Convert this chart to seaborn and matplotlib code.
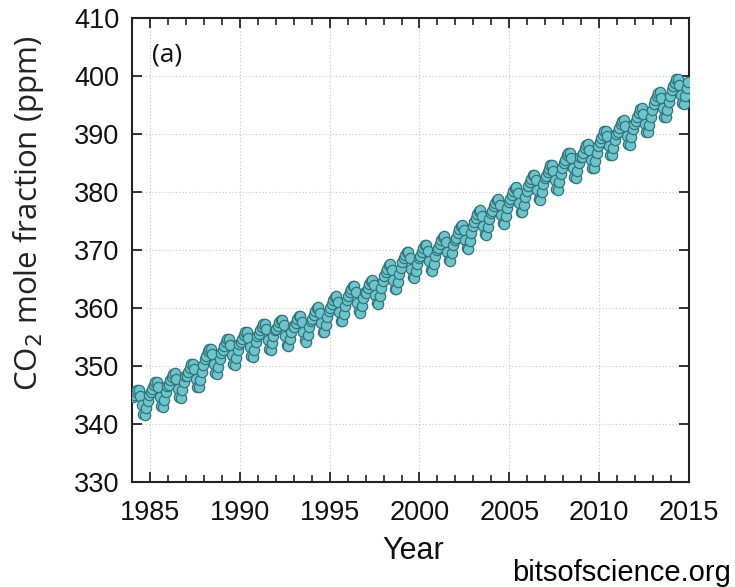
import numpy as np
import pandas as pd
import matplotlib
matplotlib.use("Agg")
import matplotlib.pyplot as plt
import seaborn as sns
from matplotlib.ticker import MultipleLocator

# ---- data (monthly CO2 mole fraction, ppm) ----
years = list(range(1984, 2015))
months = list(range(1, 13))
co2_1984 = [344.6, 345.0, 345.5, 345.9, 345.8, 344.9, 343.2, 341.8, 341.6, 342.7, 344.0, 345.0]
co2_1985 = [345.5, 346.1, 346.8, 347.3, 347.3, 346.3, 344.6, 343.1, 342.9, 344.1, 345.5, 346.5]
co2_1986 = [346.8, 347.5, 348.1, 348.7, 348.8, 347.8, 346.1, 344.6, 344.5, 345.8, 347.2, 348.2]
co2_1987 = [348.2, 349.0, 349.7, 350.3, 350.4, 349.5, 347.8, 346.4, 346.3, 347.6, 349.0, 350.2]
co2_1988 = [351.2, 351.8, 352.5, 353.0, 353.0, 352.0, 350.3, 348.8, 348.6, 349.8, 351.2, 352.2]
co2_1989 = [352.8, 353.4, 354.1, 354.6, 354.6, 353.6, 351.9, 350.4, 350.2, 351.4, 352.8, 353.8]
co2_1990 = [354.1, 354.7, 355.4, 355.9, 355.9, 354.9, 353.2, 351.7, 351.5, 352.7, 354.1, 355.1]
co2_1991 = [355.6, 356.2, 356.8, 357.3, 357.3, 356.3, 354.4, 352.9, 352.7, 353.9, 355.2, 356.2]
co2_1992 = [356.3, 356.9, 357.5, 358.0, 358.0, 357.0, 355.1, 353.6, 353.4, 354.6, 355.9, 356.9]
co2_1993 = [356.8, 357.4, 358.1, 358.6, 358.6, 357.6, 355.9, 354.4, 354.2, 355.4, 356.8, 357.8]
co2_1994 = [358.1, 358.8, 359.4, 360.0, 360.1, 359.1, 357.4, 355.9, 355.8, 357.1, 358.5, 359.5]
co2_1995 = [360.0, 360.7, 361.3, 361.9, 362.0, 361.0, 359.3, 357.8, 357.7, 359.0, 360.4, 361.4]
co2_1996 = [362.1, 362.7, 363.3, 363.8, 363.8, 362.8, 360.9, 359.4, 359.2, 360.4, 361.7, 362.7]
co2_1997 = [362.6, 363.4, 364.1, 364.7, 364.8, 363.9, 362.2, 360.8, 360.7, 362.0, 363.4, 364.6]
co2_1998 = [365.5, 366.2, 366.8, 367.4, 367.5, 366.5, 364.8, 363.3, 363.2, 364.5, 365.9, 366.9]
co2_1999 = [368.0, 368.6, 369.2, 369.7, 369.7, 368.7, 366.8, 365.3, 365.1, 366.3, 367.6, 368.6]
co2_2000 = [369.0, 369.6, 370.3, 370.8, 370.8, 369.8, 368.1, 366.6, 366.4, 367.6, 369.0, 370.0]
co2_2001 = [370.4, 371.1, 371.7, 372.3, 372.4, 371.4, 369.7, 368.2, 368.1, 369.4, 370.8, 371.8]
co2_2002 = [372.1, 372.9, 373.6, 374.2, 374.3, 373.4, 371.7, 370.3, 370.2, 371.5, 372.9, 374.1]
co2_2003 = [374.9, 375.6, 376.2, 376.8, 376.9, 375.9, 374.2, 372.7, 372.6, 373.9, 375.3, 376.3]
co2_2004 = [376.8, 377.5, 378.1, 378.7, 378.8, 377.8, 376.1, 374.6, 374.5, 375.8, 377.2, 378.2]
co2_2005 = [378.8, 379.5, 380.1, 380.7, 380.8, 379.8, 378.1, 376.6, 376.5, 377.8, 379.2, 380.2]
co2_2006 = [381.0, 381.7, 382.3, 382.9, 383.0, 382.0, 380.3, 378.8, 378.7, 380.0, 381.4, 382.4]
co2_2007 = [382.7, 383.4, 384.0, 384.6, 384.7, 383.7, 382.0, 380.5, 380.4, 381.7, 383.1, 384.1]
co2_2008 = [385.0, 385.6, 386.3, 386.8, 386.8, 385.8, 384.1, 382.6, 382.4, 383.6, 385.0, 386.0]
co2_2009 = [386.0, 386.8, 387.5, 388.1, 388.2, 387.3, 385.6, 384.2, 384.1, 385.4, 386.8, 388.0]
co2_2010 = [388.6, 389.3, 389.9, 390.5, 390.6, 389.6, 387.9, 386.4, 386.3, 387.6, 389.0, 390.0]
co2_2011 = [390.4, 391.1, 391.7, 392.3, 392.4, 391.4, 389.7, 388.2, 388.1, 389.4, 390.8, 391.8]
co2_2012 = [392.2, 393.0, 393.7, 394.3, 394.4, 393.5, 391.8, 390.4, 390.3, 391.6, 393.0, 394.2]
co2_2013 = [395.2, 395.9, 396.5, 397.1, 397.2, 396.2, 394.5, 393.0, 392.9, 394.2, 395.6, 396.6]
co2_2014 = [397.5, 398.2, 398.8, 399.4, 399.5, 398.5, 396.8, 395.3, 395.2, 396.5, 397.9, 398.9]

all_years = [co2_1984, co2_1985, co2_1986, co2_1987, co2_1988, co2_1989, co2_1990,
             co2_1991, co2_1992, co2_1993, co2_1994, co2_1995, co2_1996, co2_1997,
             co2_1998, co2_1999, co2_2000, co2_2001, co2_2002, co2_2003, co2_2004,
             co2_2005, co2_2006, co2_2007, co2_2008, co2_2009, co2_2010, co2_2011,
             co2_2012, co2_2013, co2_2014]

x_ticks = [1985, 1990, 1995, 2000, 2005, 2010, 2015]
y_ticks = [330, 340, 350, 360, 370, 380, 390, 400, 410]

rows = []
for yr, vals in zip(years, all_years):
    for m, v in zip(months, vals):
        rows.append({"year": yr, "month": m, "co2": v})
df = pd.DataFrame(rows)
df["date"] = df["year"] + (df["month"] - 0.5) / 12.0

# ---- figure ----
sns.set_theme(style="white")
plt.rcParams["font.family"] = ["Liberation Sans", "DejaVu Sans"]
plt.rcParams["xtick.minor.visible"] = True

fig = plt.figure(figsize=(7.35, 5.87), dpi=100)
ax = fig.add_axes([132/735, 1 - 482/587, (689 - 132)/735, (482 - 18)/587])

sns.lineplot(data=df, x="date", y="co2", ax=ax, color="#A8304C", linewidth=1.3,
             zorder=2, legend=False)
sns.scatterplot(data=df, x="date", y="co2", ax=ax, s=55, color="#6DC5CC",
                edgecolor="#33737C", linewidth=0.9, zorder=3, legend=False)

ax.set_xlim(1984, 2015)
ax.set_ylim(330, 410)
ax.set_xticks(x_ticks)
ax.set_yticks(y_ticks)
ax.xaxis.set_minor_locator(MultipleLocator(1))
ax.tick_params(axis="both", which="major", direction="in", length=7, width=1.3,
               color="#222222", labelsize=19.5, top=True, right=True,
               bottom=True, left=True)
ax.tick_params(axis="x", which="minor", direction="in", length=5, width=1.2,
               color="#222222", top=True, bottom=True)
ax.tick_params(axis="x", which="major", pad=13)
ax.tick_params(axis="y", which="major", pad=9)
for lab in ax.get_xticklabels() + ax.get_yticklabels():
    lab.set_color("#111111")

ax.grid(True, which="major", linestyle=(0, (1, 2)), color="#C4C4C4", linewidth=0.8)
for sp in ax.spines.values():
    sp.set_visible(True)
    sp.set_color("#222222")
    sp.set_linewidth(1.5)

ax.set_xlabel("")
ax.set_ylabel("")

fig.text(29/735, 1 - 213/587, "CO$_2$ mole fraction (ppm)", rotation=90,
         ha="center", va="center", fontsize=22.5, color="#222222",
         family=["Open Sans", "DejaVu Sans"])
fig.text(413/735, 1 - 551/587, "Year", ha="center", va="center", fontsize=22,
         color="#111111")
ax.text(0.036, 0.92, "(a)", transform=ax.transAxes, ha="left", va="center",
        fontsize=19, color="#111111", family=["Open Sans", "DejaVu Sans"])
fig.text(731/735, 1 - 573/587, "bitsofscience.org", ha="right", va="center",
         fontsize=21, color="#000000")

fig.savefig("out.png", dpi=100)
